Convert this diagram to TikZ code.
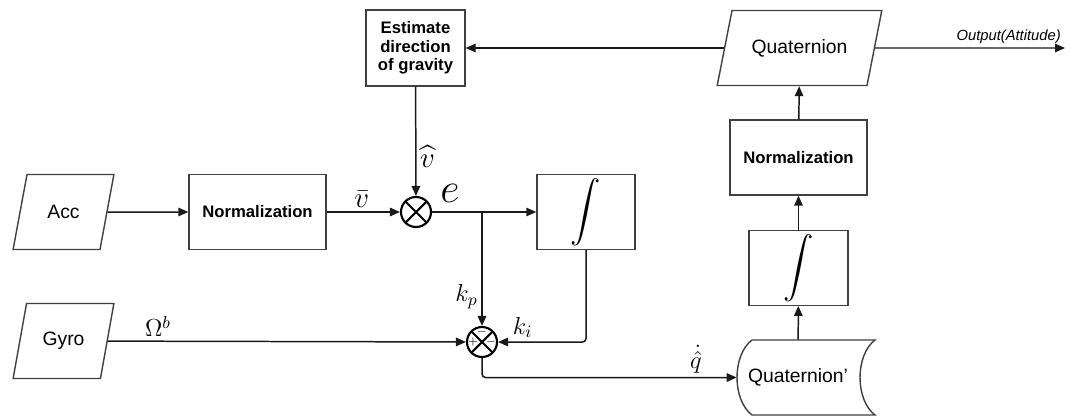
\RequirePackage{fix-cm}
\documentclass[tikz,border=0pt]{standalone}
\usepackage{amsmath}
\usepackage{fontspec}
\setmainfont{Liberation Sans}
\usetikzlibrary{arrows.meta,shapes.geometric}
\tikzset{
  brd/.style={draw=black!75,line width=.8pt},
  blk/.style={brd,rectangle,align=center,inner sep=2pt,
              font=\fontsize{9.5}{10.5}\selectfont\bfseries},
  io/.style ={brd,trapezium,trapezium stretches=true,minimum height=1.5cm,
              font=\fontsize{11}{13}\selectfont},
  sto/.style={rectangle,minimum width=2.44cm,minimum height=1.5cm,
              font=\fontsize{11}{13}\selectfont},
  mul/.style={circle,draw=black,line width=1.2pt,minimum size=.6cm,inner sep=0pt,
              path picture={\draw[line width=1.2pt]
                (path picture bounding box.north west)--(path picture bounding box.south east)
                (path picture bounding box.north east)--(path picture bounding box.south west);}},
  ar/.style ={-{Triangle[length=2mm,width=1.7mm]},line width=.85pt,draw=black!90,
              rounded corners=2pt},
  lbl/.style={font=\fontsize{14}{16}\selectfont,inner sep=2pt},
  big/.style={font=\fontsize{16.5}{18}\selectfont,inner sep=2pt},
  sgn/.style={font=\fontsize{6}{6}\selectfont\bfseries,inner sep=0pt},
}

\begin{document}
\begin{tikzpicture}[x=0.02cm,y=-0.02cm]
  \useasboundingbox (0,0) rectangle (1070,416);
  % inputs
  \node[io,trapezium left angle=71.6,trapezium right angle=108.4,minimum width=2.02cm]
    (acc) at (63.5,212) {Acc};
  \node[io,trapezium left angle=71.6,trapezium right angle=108.4,minimum width=2.02cm]
    (gyro) at (63.5,341) {Gyro};
  % blocks
  \node[blk,minimum width=2.74cm,minimum height=1.5cm] (norm1) at (257.5,212) {Normalization};
  \node[blk,minimum width=1.98cm,minimum height=1.52cm] (est) at (415.5,48)
    {Estimate\\direction\\of gravity};
  \node[blk,minimum width=1.96cm,minimum height=1.5cm] (int1) at (586,212)
    {\fontsize{16}{17}\selectfont$\displaystyle\boldsymbol{\int}$};
  \node[blk,minimum width=1.98cm,minimum height=1.48cm] (int2) at (798.5,268)
    {\fontsize{16}{17}\selectfont$\displaystyle\boldsymbol{\int}$};
  \node[blk,minimum width=2.74cm,minimum height=1.5cm] (norm2) at (798.5,157.5) {Normalization};
  \node[io,trapezium left angle=68.2,trapezium right angle=111.8,minimum width=3.3cm]
    (quat) at (799.5,48) {Quaternion};
  % stored data shape
  \node[sto] (qd) at (798,377.5) {Quaternion'};
  \draw[brd] (752,340) -- (875,340) .. controls (855,355) and (855,400) .. (875,415)
    -- (752,415) .. controls (732,400) and (732,355) .. (752,340) -- cycle;
  % multipliers
  \node[mul] (m1) at (416,212) {};
  \node[font=\fontsize{24}{26}\selectfont,inner sep=0pt] (elbl) at (450,193) {$e$};
  \node[mul] (m2) at (482,342) {};
  \node[sgn] at ([yshift=.2cm]m2.center) {$-$};
  \node[sgn] at ([xshift=-.18cm]m2.center) {$+$};
  \node[sgn] at ([xshift=.18cm]m2.center) {$-$};
  \coordinate (j) at (482,212);
  \coordinate (out) at (1065,48);
  % connectors
  \draw[ar] (acc) -- (norm1);
  \draw[ar] (norm1) -- node[big,above,pos=.48]{$\bar{v}$} (m1);
  \draw[ar] (est) -- node[big,right,pos=.64]{$\widehat{v}$} (m1);
  \draw[ar] (m1) -- (int1);
  \draw[ar] (j) -- node[lbl,left,pos=.74]{$k_p$} (m2);
  \draw[ar] (int1) |- node[lbl,above,pos=.86]{$k_i$} (m2);
  \draw[ar] (gyro) -- node[lbl,above,pos=.14]{$\Omega^b$} (m2);
  \draw[ar] (m2) |- node[lbl,above,pos=.92]{$\dot{\hat{q}}$} (qd);
  \draw[ar] (qd) -- (int2);
  \draw[ar] (int2) -- (norm2);
  \draw[ar] (norm2) -- (quat);
  \draw[ar] (quat) -- (est);
  \draw[ar] (quat) -- (out) node[pos=1,above left,inner sep=2pt,
    font=\fontsize{8.4}{10}\selectfont\itshape]{Output(Attitude)};
\end{tikzpicture}
\end{document}
